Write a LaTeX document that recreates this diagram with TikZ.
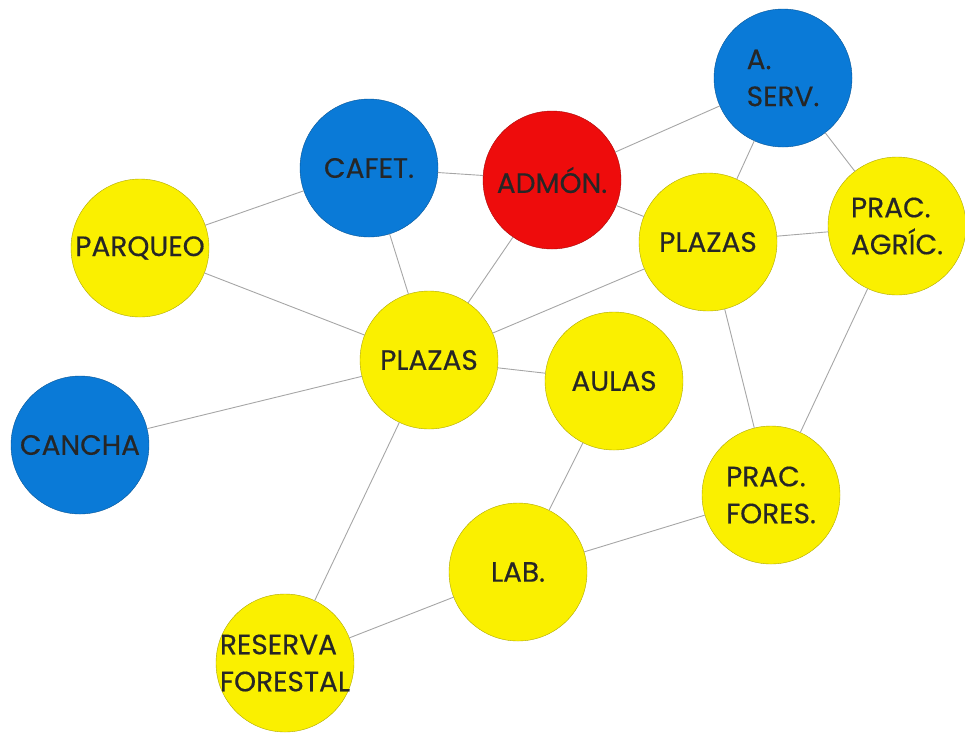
\documentclass[tikz,border=0pt]{standalone}
\usepackage{fontspec}
\setmainfont[FakeBold=0.4]{Poppins}
\definecolor{amarillo}{RGB}{250,240,0}
\definecolor{azul}{RGB}{10,122,215}
\definecolor{rojo}{RGB}{238,12,12}
\begin{document}
\begin{tikzpicture}[line cap=round,line join=round,x=1pt,y=-1pt,
    zona/.style={circle,minimum size=138pt,inner sep=-12pt,font=\fontsize{28}{37}\selectfont,text=black!85,align=left},
    zonaam/.style={zona,fill=amarillo,draw=amarillo!70!black},
    zonaaz/.style={zona,fill=azul,draw=azul!70!black},
    zonaro/.style={zona,fill=rojo,draw=rojo!70!black},
    enlace/.style={draw=black!35,line width=0.9pt}]
    \useasboundingbox (0,0) rectangle (965,732);
    \node[zonaaz] (serv) at (783,78) {A.\\SERV.};
    \node[zonaaz] (cafet) at (369,168) {CAFET.};
    \node[zonaro] (admon) at (552,180) {ADMÓN.};
    \node[zonaam] (parqueo) at (140,248) {PARQUEO};
    \node[zonaam] (plazasr) at (708,242) {PLAZAS};
    \node[zonaam] (agric) at (897,226) {PRAC.\\AGRÍC.};
    \node[zonaam] (plazasc) at (429,360) {PLAZAS};
    \node[zonaam] (aulas) at (614,381) {AULAS};
    \node[zonaaz] (cancha) at (80,445) {CANCHA};
    \node[zonaam] (fores) at (771,495) {PRAC.\\FORES.};
    \node[zonaam] (lab) at (518,572) {LAB.};
    \node[zonaam] (reserva) at (285,663) {RESERVA\\FORESTAL};
    % conexiones
    \draw[enlace] (cafet) -- (parqueo);
    \draw[enlace] (cafet) -- (admon);
    \draw[enlace] (cafet) -- (plazasc);
    \draw[enlace] (admon) -- (serv);
    \draw[enlace] (admon) -- (plazasr);
    \draw[enlace] (admon) -- (plazasc);
    \draw[enlace] (serv) -- (plazasr);
    \draw[enlace] (serv) -- (agric);
    \draw[enlace] (plazasr) -- (agric);
    \draw[enlace] (plazasr) -- (plazasc);
    \draw[enlace] (plazasr) -- (fores);
    \draw[enlace] (agric) -- (fores);
    \draw[enlace] (parqueo) -- (plazasc);
    \draw[enlace] (plazasc) -- (aulas);
    \draw[enlace] (plazasc) -- (cancha);
    \draw[enlace] (plazasc) -- (reserva);
    \draw[enlace] (aulas) -- (lab);
    \draw[enlace] (lab) -- (fores);
    \draw[enlace] (lab) -- (reserva);
\end{tikzpicture}
\end{document}
